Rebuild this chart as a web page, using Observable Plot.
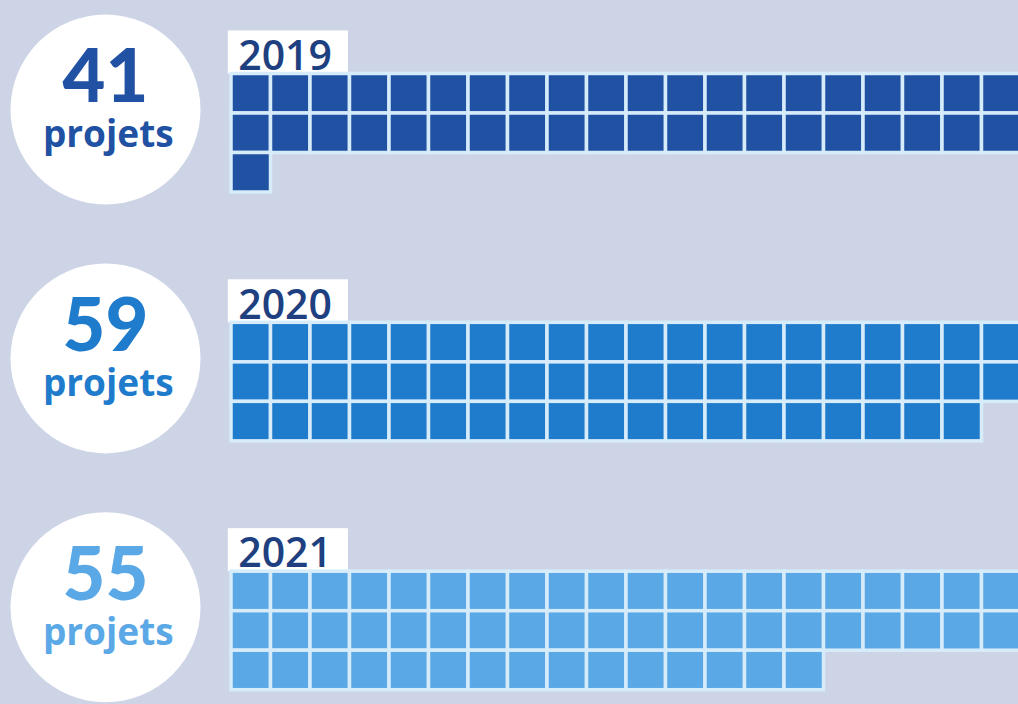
<!DOCTYPE html>
<html><head><meta charset="utf-8">
<script src="https://cdn.jsdelivr.net/npm/d3@7"></script>
<script src="https://cdn.jsdelivr.net/npm/@observablehq/plot@0.6"></script>
<style>html,body{margin:0;padding:0;background:#ccd4e6;overflow:hidden}</style>
</head><body><div id="chart"></div>
<script>
// ---- data ----
const years = ["2019", "2020", "2021"];
const projects = [41, 59, 55];
const unitLabel = "projets";
const colors = ["#2151a2", "#1f7bcb", "#5aa8e5"];
const perRow = 20;

// ---- layout (in cell units) ----
const W = 1018, H = 704, PITCH = 39.5, X0 = 231, Y0 = 73.5, GROUP = 6.3;
const CIRCLE_X = -3.19, CIRCLE_DY = 0.9;

const groups = years.map((year, g) => ({year, g, n: projects[g], label: String(projects[g]), color: colors[g], top: g * GROUP}));
const cells = groups.flatMap(G => d3.range(G.n).map(i => ({g: G.g, color: G.color, top: G.top, col: i % perRow, row: Math.floor(i / perRow)})));

const chart = Plot.plot({
  width: W, height: H, margin: 0,
  x: {type: "linear", domain: [-X0 / PITCH, (W - X0) / PITCH], range: [0, W], axis: null},
  y: {type: "linear", domain: [-Y0 / PITCH, (H - Y0) / PITCH], range: [0, H], axis: null},
  color: {type: "identity"},
  style: {background: "#ccd4e6", overflow: "hidden"},
  marks: [
    Plot.dot(groups, {x: () => CIRCLE_X, y: d => d.top + CIRCLE_DY, r: 95, fill: "white", stroke: null}),
    Plot.text(groups, {x: () => CIRCLE_X, y: d => d.top + CIRCLE_DY - 0.18, text: "label", fill: "color",
      fontSize: 74, fontWeight: 900, fontFamily: "Lato", lineAnchor: "bottom", textAnchor: "middle"}),
    Plot.text(groups, {x: () => CIRCLE_X + 0.07, y: d => d.top + CIRCLE_DY + 0.96, text: () => unitLabel, fill: "color",
      fontSize: 37, fontWeight: 700, fontFamily: "Open Sans", lineAnchor: "bottom", textAnchor: "middle",
      letterSpacing: "2.5px"}),
    Plot.rect(groups, {x1: () => -0.08, x2: () => 2.96, y1: d => d.top - 1.09, y2: d => d.top, fill: "white"}),
    Plot.text(groups, {x: () => 0.17, y: d => d.top - 0.11, text: "year", fill: "#1e3f80",
      fontSize: 41, fontWeight: 600, fontFamily: "Open Sans", lineAnchor: "bottom", textAnchor: "start"}),
    Plot.rect(cells, {x1: d => d.col, x2: d => d.col + 1, y1: d => d.top + d.row, y2: d => d.top + d.row + 1,
      fill: "color", stroke: "#d6ecfb", strokeWidth: 3.5})
  ]
});
document.getElementById("chart").appendChild(chart);
</script>
</body></html>
